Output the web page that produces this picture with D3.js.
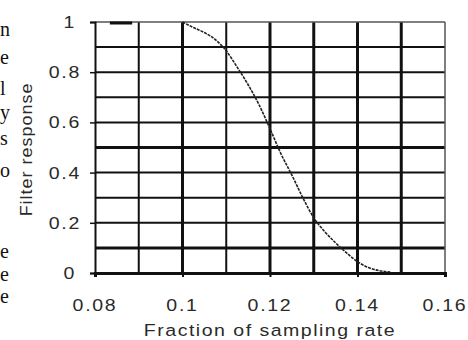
<!DOCTYPE html>
<html>
<head>
<meta charset="utf-8">
<script src="https://cdn.jsdelivr.net/npm/d3@7"></script>
<style>
  html, body { margin: 0; padding: 0; background: #fff; }
  svg { display: block; }
</style>
</head>
<body>
<svg id="chart" width="468" height="340"></svg>
<script>
// ---- data ----
const xTicks = [0.08, 0.10, 0.12, 0.14, 0.16];
const xTickLabels = ["0.08", "0.1", "0.12", "0.14", "0.16"];
const yTicks = [0, 0.2, 0.4, 0.6, 0.8, 1];
const yTickLabels = ["0", "0.2", "0.4", "0.6", "0.8", "1"];
const xGrid = [0.09, 0.10, 0.11, 0.12, 0.13, 0.14, 0.15];
const yGrid = [0.1, 0.2, 0.3, 0.4, 0.5, 0.6, 0.7, 0.8, 0.9];
const freq = [0.100, 0.1025, 0.105, 0.1075, 0.110, 0.1125, 0.115, 0.1175, 0.120, 0.1225,
              0.125, 0.1275, 0.130, 0.1325, 0.135, 0.1375, 0.140, 0.1425, 0.145, 0.1475];
const response = [1.0, 0.978, 0.958, 0.93, 0.885, 0.82, 0.75, 0.67, 0.575, 0.475,
                  0.39, 0.30, 0.22, 0.165, 0.12, 0.08, 0.045, 0.022, 0.009, 0.004];
const passFreq = [0.0834, 0.0885];
const passResp = [0.996, 0.996];
const xTitle = "Fraction of sampling rate";
const yTitle = "Filter response";
const sideLetters = ["n", "e", "l", "y", "s", "o", "e", "e", "e"];
const sideBaselines = [36, 64, 95, 119, 145, 177, 258, 280.5, 303];

// ---- layout ----
const svg = d3.select("#chart");
const x = d3.scaleLinear().domain([0.08, 0.16]).range([95, 445]);
const y = d3.scaleLinear().domain([0, 1]).range([273, 22]);
const ink = "#111";
const txt = "#2a2a2a";
const font = "'Liberation Sans', Arial, sans-serif";

// side text fragments (neighbouring column of the page)
svg.append("g").selectAll("text").data(sideLetters).join("text")
  .attr("x", 0).attr("y", (d, i) => sideBaselines[i])
  .attr("text-anchor", "start")
  .attr("font-family", "'Liberation Serif', 'Times New Roman', serif")
  .attr("font-size", 20).attr("fill", ink)
  .text(d => d);

// grid
const thinV = new Set([0.09, 0.11]);
const thickH = new Set([0.1, 0.5]);
svg.append("g").selectAll("line").data(xGrid).join("line")
  .attr("x1", d => x(d)).attr("x2", d => x(d))
  .attr("y1", y(0)).attr("y2", y(1))
  .attr("stroke", ink)
  .attr("stroke-width", d => thinV.has(d) ? 2 : 3);
svg.append("g").selectAll("line").data(yGrid).join("line")
  .attr("x1", x(0.08)).attr("x2", x(0.16))
  .attr("y1", d => y(d)).attr("y2", d => y(d))
  .attr("stroke", ink)
  .attr("stroke-width", d => thickH.has(d) ? 3 : 2);

// frame: top + right thin grey
svg.append("line").attr("x1", x(0.08)).attr("x2", x(0.16))
  .attr("y1", y(1)).attr("y2", y(1)).attr("stroke", "#555").attr("stroke-width", 1.5);
svg.append("line").attr("x1", x(0.16)).attr("x2", x(0.16))
  .attr("y1", y(1)).attr("y2", y(0)).attr("stroke", "#555").attr("stroke-width", 1.5);

// axes
const xAxis = d3.axisBottom(x).tickValues(xTicks).tickSize(4).tickFormat(() => "");
const gx = svg.append("g").attr("transform", `translate(0,${y(0)})`).call(xAxis);
gx.select(".domain").attr("stroke", ink).attr("stroke-width", 3);
gx.selectAll(".tick line").attr("stroke", ink).attr("stroke-width", 2);

const yAxis = d3.axisLeft(y).tickValues(yTicks).tickSize(5).tickFormat(() => "");
const gy = svg.append("g").attr("transform", `translate(${x(0.08)},0)`).call(yAxis);
gy.select(".domain").attr("stroke", ink).attr("stroke-width", 2);
gy.selectAll(".tick line").attr("stroke", ink).attr("stroke-width", 1.5);

// tick labels (wide, spaced like the original)
const sx = 1.15;
const fs = 17;
svg.append("g").selectAll("text").data(xTicks).join("text")
  .attr("transform", d => `translate(${x(d)},311) scale(${sx},1)`)
  .attr("text-anchor", "middle")
  .attr("font-family", font).attr("font-size", fs).attr("fill", txt)
  .attr("letter-spacing", 1.5)
  .text((d, i) => xTickLabels[i]);

svg.append("g").selectAll("text").data(yTicks).join("text")
  .attr("transform", (d, i) => `translate(${yTickLabels[i].length > 1 ? 81 : 76},${y(d) + 6}) scale(${sx},1)`)
  .attr("text-anchor", "end")
  .attr("font-family", font).attr("font-size", fs).attr("fill", txt)
  .attr("letter-spacing", 1.5)
  .text((d, i) => yTickLabels[i]);

// axis titles
svg.append("text")
  .attr("transform", `translate(${(x(0.08) + x(0.16)) / 2},336) scale(${sx},1)`)
  .attr("text-anchor", "middle")
  .attr("font-family", font).attr("font-size", fs).attr("fill", txt)
  .attr("letter-spacing", 1.3)
  .text(xTitle);

svg.append("text")
  .attr("transform", `translate(32,${(y(0) + y(1)) / 2 + 2}) rotate(-90) scale(1.05,1)`)
  .attr("text-anchor", "middle")
  .attr("font-family", font).attr("font-size", fs).attr("fill", txt)
  .attr("letter-spacing", 1)
  .text(yTitle);

// series
const line = d3.line().x(d => x(d[0])).y(d => y(d[1])).curve(d3.curveMonotoneX);
svg.append("path")
  .datum(freq.map((f, i) => [f, response[i]]))
  .attr("d", line)
  .attr("fill", "none").attr("stroke", "#222").attr("stroke-width", 1.6)
  .attr("stroke-dasharray", "3,1");
svg.append("path")
  .datum(passFreq.map((f, i) => [f, passResp[i]]))
  .attr("d", d3.line().x(d => x(d[0])).y(d => y(d[1])))
  .attr("fill", "none").attr("stroke", ink).attr("stroke-width", 3);
</script>
</body>
</html>
